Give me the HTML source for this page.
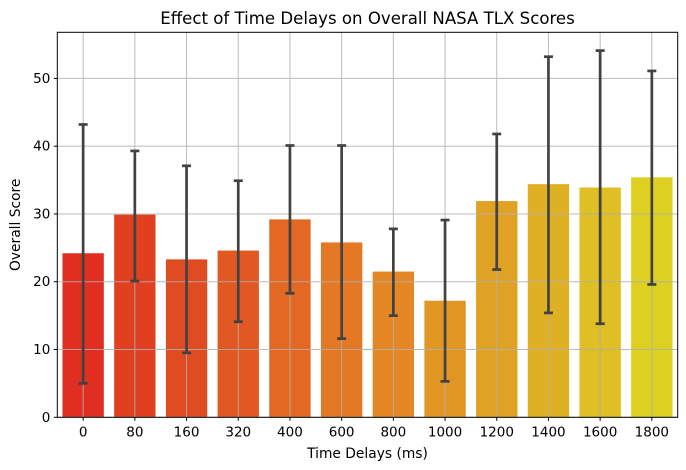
<!DOCTYPE html>
<html><head><meta charset="utf-8"><style>
body{margin:0;background:#fff;}
svg{display:block;font-family:"DejaVu Sans","Liberation Sans",sans-serif;}
</style></head><body>
<svg id="chart" width="686" height="470"></svg>
<script>
const categories=["0","80","160","320","400","600","800","1000","1200","1400","1600","1800"];
const meanValues=[24.2,29.9,23.3,24.6,29.2,25.8,21.5,17.2,31.9,34.4,33.9,35.4];
const errLow=[5.0,20.1,9.5,14.1,18.3,11.6,15.0,5.3,21.8,15.4,13.8,19.6];
const errHigh=[43.2,39.3,37.1,34.9,40.1,40.1,27.8,29.1,41.8,53.2,54.1,51.1];
const barColors=["#e02f20","#e03f20","#e04c21","#e15822","#e26823","#e47824","#e48724","#e19523","#e0a224","#e0b024","#dfbf24","#ddd020"];
const yTicks=[0,10,20,30,40,50];

const NS="http://www.w3.org/2000/svg";
const svg=document.getElementById('chart');
const L=57.3,R=677.7,T=32.3,B=417.3,YMAX=56.8;
const band=(R-L)/categories.length;
const x=i=>L+band*(i+0.5);
const y=v=>B-(v/YMAX)*(B-T);
function mk(tag,attrs,parent){const e=document.createElementNS(NS,tag);for(const k in attrs)e.setAttribute(k,attrs[k]);(parent||svg).appendChild(e);return e;}

const bars=mk('g',{});


categories.forEach((c,i)=>{
  const r=mk('rect',{x:x(i)-band*0.4,y:y(meanValues[i]),width:band*0.8,height:B-y(meanValues[i]),fill:barColors[i]},bars);
  
  
});
const grid=mk('g',{stroke:'#b0b0b0','stroke-width':1,opacity:0.85});


yTicks.forEach(t=>mk('line',{x1:L,x2:R,y1:y(t),y2:y(t)},grid));
categories.forEach((c,i)=>mk('line',{x1:x(i),x2:x(i),y1:T,y2:B},grid));

const errs=mk('g',{stroke:'#424242','stroke-width':2.7});


categories.forEach((c,i)=>{
  const g=mk('g',{},errs);
  
  
  mk('line',{x1:x(i),x2:x(i),y1:y(errLow[i]),y2:y(errHigh[i])},g);
  mk('line',{x1:x(i)-4.5,x2:x(i)+4.5,y1:y(errLow[i]),y2:y(errLow[i])},g);
  mk('line',{x1:x(i)-4.5,x2:x(i)+4.5,y1:y(errHigh[i]),y2:y(errHigh[i])},g);
});

const frame=mk('rect',{x:L,y:T,width:R-L,height:B-T,fill:'none',stroke:'#000','stroke-width':1});



const yax=mk('g',{});


yTicks.forEach(t=>{
  mk('line',{x1:L-3.5,x2:L,y1:y(t),y2:y(t),stroke:'#000'},yax);
  const tx=mk('text',{x:L-7,y:y(t)+4.5,'text-anchor':'end','font-size':13.5,fill:'#000'},yax);
  tx.textContent=t;
  
  
});
const xax=mk('g',{});


categories.forEach((c,i)=>{
  mk('line',{x1:x(i),x2:x(i),y1:B,y2:B+3.5,stroke:'#000'},xax);
  const tx=mk('text',{x:x(i),y:B+19,'text-anchor':'middle','font-size':13.5,fill:'#000'},xax);
  tx.textContent=c;
  
  
});
const title=mk('text',{x:(L+R)/2,y:24,'text-anchor':'middle','font-size':16.6,fill:'#000'});
title.textContent='Effect of Time Delays on Overall NASA TLX Scores';


const xl=mk('text',{x:(L+R)/2,y:458,'text-anchor':'middle','font-size':13.8,fill:'#000'});
xl.textContent='Time Delays (ms)';


const yl=mk('text',{x:0,y:0,'text-anchor':'middle','font-size':13.8,fill:'#000',transform:`translate(20,${(T+B)/2}) rotate(-90)`});
yl.textContent='Overall Score';


</script>
</body></html>
